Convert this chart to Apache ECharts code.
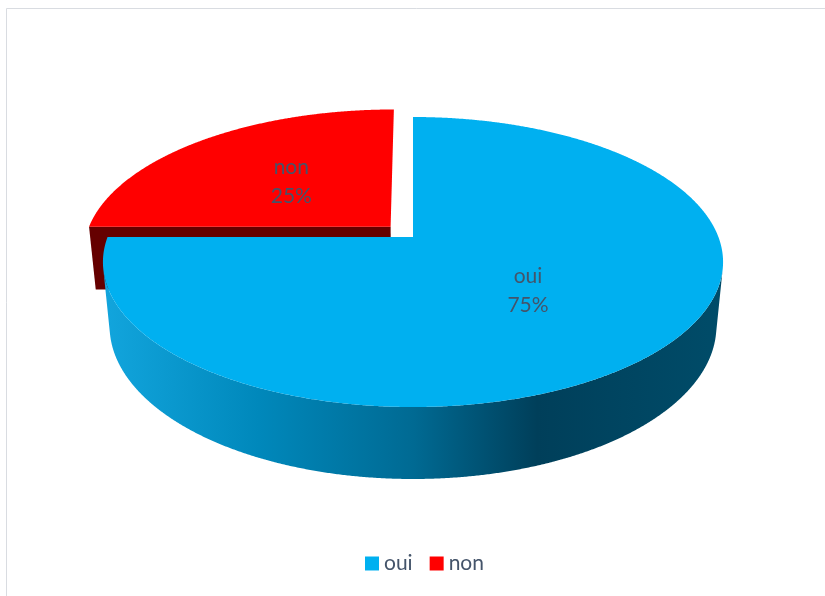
<!DOCTYPE html>
<html>
<head>
<meta charset="utf-8">
<script src="https://cdn.jsdelivr.net/npm/echarts@6/dist/echarts.min.js"></script>
<style>
  html, body { margin: 0; padding: 0; background: #ffffff; }
  #chart { width: 825px; height: 596px; }
</style>
</head>
<body>
<div id="chart"></div>
<script>
// Survey answers
const categories = ['oui', 'non'];
const values = [75, 25];
const sliceColors = ['#00b0f0', '#ff0000'];

// Perspective camera for the tilted disk (disk radius = 1 world unit)
const CX = 413, CY = 237;        // screen position of the disk centre
const FOCAL = 1572;              // focal length in px
const DIST = 5.147;              // camera distance from the disk centre
const SIN_T = 0.4607;            // sine of the viewing elevation
const COS_T = Math.sqrt(1 - SIN_T * SIN_T);
const THICK = 0.2388;            // disk thickness
const EXPLODE = [0, 0.105];      // radial pull-out of each slice
const SIDE_DARK = ['#00405a', '#650000'];
const LABEL_COLOR = '#44546a';
const FONT = 'Lato, "Open Sans", sans-serif';

const total = values.reduce((a, b) => a + b, 0);
const DEG = Math.PI / 180;

function project(x, y, z) {
  const depth = DIST + y * COS_T - z * SIN_T;
  return [CX + FOCAL * x / depth, CY - FOCAL * (y * SIN_T + z * COS_T) / depth];
}

// Angular extent of a slice, starting at 12 o'clock and running clockwise
function sliceGeom(i) {
  let before = 0;
  for (let k = 0; k < i; k++) before += values[k];
  const a0 = (90 - 360 * before / total) * DEG;
  const a1 = a0 - 360 * values[i] / total * DEG;
  const mid = (a0 + a1) / 2;
  return { a0, a1, mid, ox: EXPLODE[i] * Math.cos(mid), oy: EXPLODE[i] * Math.sin(mid) };
}

function makeRender(i) {
  return function (params, api) {
    const value = api.value(0);
    const g = sliceGeom(i);
    const { a0, a1, ox, oy } = g;
    const children = [];
    const step = 0.25 * DEG;

    const sideFill = i === 0
      ? new echarts.graphic.LinearGradient(104, 0, 723, 0, [
          { offset: 0, color: '#12a5dd' },
          { offset: 0.25, color: '#0088bb' },
          { offset: 0.5, color: '#006a93' },
          { offset: 0.7, color: '#003f5a' },
          { offset: 1, color: '#004c69' }
        ], true)
      : SIDE_DARK[i];

    // Outer curved wall: only the arcs that face the camera
    const visible = t => (-ox * Math.cos(t) - oy * Math.sin(t) - 1 - DIST * COS_T * Math.sin(t)) > 0;
    let run = [];
    const flush = () => {
      if (run.length > 1) {
        const top = run.map(t => project(ox + Math.cos(t), oy + Math.sin(t), 0));
        const bot = run.slice().reverse().map(t => project(ox + Math.cos(t), oy + Math.sin(t), -THICK));
        children.push({ type: 'polygon', z2: 1, shape: { points: top.concat(bot) }, style: { fill: sideFill } });
      }
      run = [];
    };
    for (let t = a1; t <= a0 + 1e-9; t += step) {
      if (visible(t)) run.push(t); else flush();
    }
    flush();

    // Cut faces along the two radii (faces seen nearly edge-on are skipped)
    const radial = (t) => {
      const c0 = project(ox, oy, 0), r0 = project(ox + Math.cos(t), oy + Math.sin(t), 0);
      const r1 = project(ox + Math.cos(t), oy + Math.sin(t), -THICK), c1 = project(ox, oy, -THICK);
      children.push({ type: 'polygon', z2: 2, shape: { points: [c0, r0, r1, c1] }, style: { fill: SIDE_DARK[i] } });
    };
    const camY = -DIST * COS_T - oy;
    if (-Math.sin(a0) * (-ox) + Math.cos(a0) * camY > 0.5) radial(a0);
    if (Math.sin(a1) * (-ox) - Math.cos(a1) * camY > 0.5) radial(a1);

    // Top face
    const topPts = [project(ox, oy, 0)];
    for (let t = a0; t >= a1 - 1e-9; t -= step) topPts.push(project(ox + Math.cos(t), oy + Math.sin(t), 0));
    topPts.push(project(ox + Math.cos(a1), oy + Math.sin(a1), 0));
    children.push({ type: 'polygon', z2: 3, shape: { points: topPts }, style: { fill: sliceColors[i] } });

    // Data label: category name and share
    const lp = project(ox + 0.5 * Math.cos(g.mid), oy + 0.5 * Math.sin(g.mid), 0);
    children.push({
      type: 'text', z2: 5, x: lp[0], y: lp[1] + 1,
      style: {
        text: categories[i] + '\n' + Math.round(value / total * 100) + '%',
        fill: LABEL_COLOR, fontSize: 21, fontFamily: FONT, lineHeight: 29,
        align: 'center', verticalAlign: 'middle'
      }
    });
    return { type: 'group', children };
  };
}

const chart = echarts.init(document.getElementById('chart'), null, { renderer: 'canvas' });
chart.setOption({
  animation: false,
  backgroundColor: '#ffffff',
  graphic: [{
    type: 'rect', z: -1, silent: true,
    shape: { x: 6.5, y: 8.5, width: 900, height: 700 },
    style: { fill: 'none', stroke: '#d9dce1', lineWidth: 1 }
  }],
  legend: {
    data: categories,
    left: 360, top: 548,
    icon: 'rect', itemWidth: 14, itemHeight: 14, itemGap: 17,
    textStyle: { fontSize: 21, fontFamily: FONT, color: LABEL_COLOR }
  },
  series: categories.map((name, i) => ({
    type: 'custom',
    name: name,
    coordinateSystem: 'none',
    z: i === 0 ? 3 : 2,
    itemStyle: { color: sliceColors[i] },
    renderItem: makeRender(i),
    data: [values[i]]
  }))
});
</script>
</body>
</html>
